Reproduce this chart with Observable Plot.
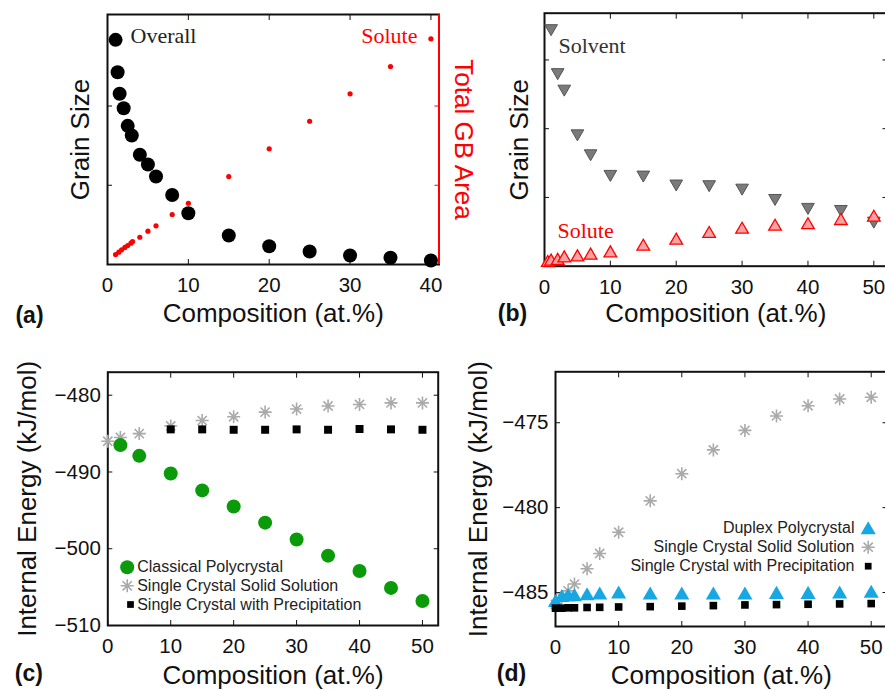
<!DOCTYPE html>
<html><head><meta charset="utf-8">
<script src="https://cdn.jsdelivr.net/npm/d3@7"></script>
<script src="https://cdn.jsdelivr.net/npm/@observablehq/plot@0.6"></script>
<style>
html,body{margin:0;padding:0;background:#fff;overflow:hidden;}
#root{position:relative;width:885px;height:690px;overflow:hidden;background:#fff;}
</style></head><body><div id="root"></div>
<script>
// ---------------- data ----------------
// (a) grain size (arb.) and total GB area (arb.) vs composition
const overallComp  = [1, 1.25, 1.5, 2, 2.5, 3, 4, 5, 6, 8, 10, 15, 20, 25, 30, 35, 40];
const overallGrain = [2.835, 2.427, 2.154, 1.972, 1.750, 1.628, 1.385, 1.262, 1.110, 0.877, 0.647, 0.366, 0.231, 0.164, 0.114, 0.085, 0.050];
const gbAreaComp   = [1, 1.4, 1.75, 2.15, 2.5, 2.9, 3.1, 4, 5, 6, 8, 10, 15, 20, 25, 30, 35, 40];
const gbArea       = [0.126, 0.155, 0.185, 0.215, 0.240, 0.269, 0.290, 0.344, 0.420, 0.488, 0.631, 0.773, 1.110, 1.460, 1.808, 2.154, 2.498, 2.848];
// (b) solvent / solute grain size
const solventComp  = [1, 2, 3, 5, 7, 10, 15, 20, 25, 30, 35, 40, 45, 50];
const solventGrain = [3.46, 2.82, 2.58, 1.93, 1.64, 1.34, 1.33, 1.20, 1.19, 1.14, 0.99, 0.86, 0.83, 0.66];
const soluteComp   = [0.5, 1, 2, 3, 5, 7, 10, 15, 20, 25, 30, 35, 40, 45, 50];
const soluteGrain  = [0.05, 0.07, 0.08, 0.116, 0.131, 0.156, 0.189, 0.286, 0.374, 0.471, 0.533, 0.577, 0.599, 0.660, 0.708];
// (c) internal energy (kJ/mol)
const classicalComp   = [2, 5, 10, 15, 20, 25, 30, 35, 40, 45, 50];
const classicalEnergy = [-486.5, -487.9, -490.2, -492.4, -494.5, -496.6, -498.8, -500.9, -502.9, -505.1, -506.8];
const solidCompC      = [0, 2, 5, 10, 15, 20, 25, 30, 35, 40, 45, 50];
const solidEnergyC    = [-486.0, -485.5, -485.0, -484.0, -483.3, -482.8, -482.2, -481.8, -481.4, -481.2, -481.0, -481.0];
const precipCompC     = [10, 15, 20, 25, 30, 35, 40, 45, 50];
const precipEnergyC   = [-484.45, -484.45, -484.5, -484.5, -484.45, -484.5, -484.4, -484.45, -484.5];
// (d) internal energy (kJ/mol)
const compD           = [0, 1, 2, 3, 5, 7, 10, 15, 20, 25, 30, 35, 40, 45, 50];
const duplexEnergy    = [-485.6, -485.3, -485.25, -485.25, -485.2, -485.15, -485.1, -485.15, -485.15, -485.15, -485.15, -485.12, -485.12, -485.1, -485.05];
const solidEnergyD    = [-485.7, -485.3, -484.9, -484.5, -483.6, -482.7, -481.45, -479.6, -478.0, -476.6, -475.45, -474.6, -474.0, -473.6, -473.5];
const precipEnergyD   = [-485.92, -485.92, -485.9, -485.9, -485.88, -485.87, -485.85, -485.83, -485.8, -485.77, -485.73, -485.71, -485.69, -485.67, -485.65];
// ticks & domains
const xTicksA = [0, 10, 20, 30, 40];
const xTicksBCD = [0, 10, 20, 30, 40, 50];
const yTicksA = [1, 2];
const yTicksB = [1, 2, 3];
const yTicksC = [-510, -500, -490, -480];
const yTicksD = [-485, -480, -475];
const xDomainA = [0, 41], yDomainA = [0, 3.155];
const xDomainB = [0, 52], yDomainB = [0, 3.68];
const xDomainC = [0, 52.5], yDomainC = [-510, -477];
const xDomainD = [0, 52.5], yDomainD = [-487, -472];
// text
const xTitle = "Composition (at.%)";
const grainTitle = "Grain Size";
const gbTitle = "Total GB Area";
const energyTitle = "Internal Energy (kJ/mol)";
const legendC = ["Classical Polycrystal", "Single Crystal Solid Solution", "Single Crystal with Precipitation"];
const legendD = ["Duplex Polycrystal", "Single Crystal Solid Solution", "Single Crystal with Precipitation"];

// ---------------- helpers ----------------
const SANS = "'Liberation Sans', Arial, Helvetica, sans-serif";
const SERIF = "'Liberation Serif', 'Times New Roman', serif";
const GREEN = "#0a9a0a", STAR = "#aaaaaa", BLUE = "#17a8e3";
const zip = (xs, ys) => xs.map((x, i) => ({x, y: ys[i]}));
const asterisk8 = {
  draw(ctx, size) {
    const r = Math.sqrt(size / Math.PI);
    for (let k = 0; k < 4; ++k) {
      const a = k * Math.PI / 4, c = Math.cos(a) * r, s = Math.sin(a) * r;
      ctx.moveTo(-c, -s); ctx.lineTo(c, s);
    }
  }
};
const blank = () => "";
function box(xTicks, yTicks, {yLabels = true, rightColor = "#111"} = {}) {
  return [
    Plot.frame({stroke: "#111", strokeWidth: 2}),
    Plot.axisX({ticks: xTicks, anchor: "bottom", tickSize: -5, tickPadding: 18, fontSize: 20.5, label: null, color: "#111"}),
    Plot.axisX({ticks: xTicks, anchor: "top", tickSize: -5, tickFormat: blank, label: null, color: "#111"}),
    Plot.axisY({ticks: yTicks, anchor: "left", tickSize: -5, tickPadding: 12, fontSize: 20.5, label: null, color: "#111", tickFormat: yLabels ? undefined : blank}),
    Plot.axisY({ticks: yTicks, anchor: "right", tickSize: -5, tickFormat: blank, label: null, color: rightColor})
  ];
}
function titles(yTitle, yDx, xDy, tag, tagDx, tagDy) {
  return [
    Plot.text([xTitle], {text: d => d, frameAnchor: "bottom", dy: xDy, textAnchor: "middle", lineAnchor: "middle", fontSize: 26, fill: "#111"}),
    Plot.text([yTitle], {text: d => d, frameAnchor: "left", dx: yDx, rotate: -90, textAnchor: "middle", lineAnchor: "middle", fontSize: 26, fill: "#111"}),
    Plot.text([tag], {text: d => d, frameAnchor: "bottom-left", dx: tagDx, dy: tagDy, textAnchor: "middle", lineAnchor: "middle", fontSize: 23, fontWeight: "bold", fill: "#111"})
  ];
}
function legendText(label, anchor, dx, dy, textAnchor) {
  return Plot.text([label], {text: d => d, frameAnchor: anchor, dx, dy, textAnchor, lineAnchor: "middle", fontSize: 16, fill: "#222"});
}
const root = document.getElementById("root");
function place({left, top, width, height, mt, mr, mb, ml, xDomain, yDomain, marks}) {
  const svg = Plot.plot({
    width, height, marginTop: mt, marginRight: mr, marginBottom: mb, marginLeft: ml,
    x: {domain: xDomain}, y: {domain: yDomain},
    style: {fontFamily: SANS, fontSize: "20px", background: "transparent", overflow: "visible", color: "#111"},
    marks
  });
  svg.style.position = "absolute";
  svg.style.left = left + "px";
  svg.style.top = top + "px";
  root.appendChild(svg);
}

// ---------------- (a) ----------------
place({
  left: 0, top: 0, width: 490, height: 330, mt: 14, mr: 51.5, mb: 66, ml: 107,
  xDomain: xDomainA, yDomain: yDomainA,
  marks: [
    ...box(xTicksA, yTicksA, {yLabels: false, rightColor: "red"}),
    Plot.ruleX([xDomainA[1]], {stroke: "red", strokeWidth: 2}),
    Plot.dot(zip(gbAreaComp, gbArea), {x: "x", y: "y", r: 2.6, fill: "red"}),
    Plot.dot(zip(overallComp, overallGrain), {x: "x", y: "y", r: 7, fill: "black"}),
    Plot.text(["Overall"], {text: d => d, frameAnchor: "top-left", dx: 23, dy: 21, textAnchor: "start", lineAnchor: "middle", fontFamily: SERIF, fontSize: 22, fill: "#222"}),
    Plot.text(["Solute"], {text: d => d, frameAnchor: "top-right", dx: -21.5, dy: 21, textAnchor: "end", lineAnchor: "middle", fontFamily: SERIF, fontSize: 22, fill: "red"}),
    Plot.text([gbTitle], {text: d => d, frameAnchor: "right", dx: 24, rotate: 90, textAnchor: "middle", lineAnchor: "middle", fontSize: 26, fill: "red"}),
    ...titles(grainTitle, -27, 49, "(a)", -78, 51)
  ]
});

// ---------------- (b) ----------------
place({
  left: 490, top: 0, width: 400, height: 330, mt: 12.7, mr: 3.5, mb: 64.3, ml: 54,
  xDomain: xDomainB, yDomain: yDomainB,
  marks: [
    ...box(xTicksBCD, yTicksB, {yLabels: false}),
    Plot.dot(zip(solventComp, solventGrain), {x: "x", y: "y", r: 4.7, symbol: "triangle", rotate: 180, fill: "#7a7a7a", stroke: "#555", strokeWidth: 1}),
    Plot.dot(zip(soluteComp, soluteGrain), {x: "x", y: "y", r: 4.7, symbol: "triangle", fill: "#f7a3a3", stroke: "red", strokeWidth: 1.3}),
    Plot.text(["Solvent"], {text: d => d, frameAnchor: "top-left", dx: 14, dy: 32.3, textAnchor: "start", lineAnchor: "middle", fontFamily: SERIF, fontSize: 22, fill: "#333"}),
    Plot.text(["Solute"], {text: d => d, frameAnchor: "bottom-left", dx: 13, dy: -35.7, textAnchor: "start", lineAnchor: "middle", fontFamily: SERIF, fontSize: 22, fill: "red"}),
    ...titles(grainTitle, -25, 47.3, "(b)", -32, 47.3)
  ]
});

// ---------------- (c) ----------------
place({
  left: 0, top: 330, width: 490, height: 360, mt: 41.7, mr: 52.3, mb: 65, ml: 107.3,
  xDomain: xDomainC, yDomain: yDomainC,
  marks: [
    ...box(xTicksBCD, yTicksC),
    Plot.dot(zip(solidCompC, solidEnergyC), {x: "x", y: "y", r: 6.5, symbol: asterisk8, fill: "none", stroke: STAR, strokeWidth: 1.6}),
    Plot.dot(zip(precipCompC, precipEnergyC), {x: "x", y: "y", r: 4.5, symbol: "square", fill: "black"}),
    Plot.dot(zip(classicalComp, classicalEnergy), {x: "x", y: "y", r: 7, fill: GREEN}),
    // legend
    Plot.dot([legendC[0]], {frameAnchor: "bottom-left", dx: 19.4, dy: -58.3, r: 7, fill: GREEN}),
    Plot.dot([legendC[1]], {frameAnchor: "bottom-left", dx: 19.4, dy: -39.7, r: 6.5, symbol: asterisk8, fill: "none", stroke: STAR, strokeWidth: 1.6}),
    Plot.dot([legendC[2]], {frameAnchor: "bottom-left", dx: 22.7, dy: -21, r: 3.8, symbol: "square", fill: "black"}),
    legendText(legendC[0], "bottom-left", 29.4, -58.3, "start"),
    legendText(legendC[1], "bottom-left", 29.4, -39.7, "start"),
    legendText(legendC[2], "bottom-left", 29.4, -21, "start"),
    ...titles(energyTitle, -80, 50, "(c)", -79, 48)
  ]
});

// ---------------- (d) ----------------
place({
  left: 490, top: 330, width: 400, height: 360, mt: 41.3, mr: 3.5, mb: 64, ml: 65,
  xDomain: xDomainD, yDomain: yDomainD,
  marks: [
    ...box(xTicksBCD, yTicksD),
    Plot.dot(zip(compD, solidEnergyD), {x: "x", y: "y", r: 6.5, symbol: asterisk8, fill: "none", stroke: STAR, strokeWidth: 1.6}),
    Plot.dot(zip(compD, duplexEnergy), {x: "x", y: "y", r: 5.6, symbol: "triangle", fill: BLUE}),
    Plot.dot(zip(compD, precipEnergyD), {x: "x", y: "y", r: 4.3, symbol: "square", fill: "black"}),
    // legend
    Plot.dot([legendD[0]], {frameAnchor: "bottom-right", dx: -18.8, dy: -96.5, r: 5.6, symbol: "triangle", fill: BLUE}),
    Plot.dot([legendD[1]], {frameAnchor: "bottom-right", dx: -18.8, dy: -79.3, r: 6.5, symbol: asterisk8, fill: "none", stroke: STAR, strokeWidth: 1.6}),
    Plot.dot([legendD[2]], {frameAnchor: "bottom-right", dx: -18.8, dy: -60.3, r: 3.8, symbol: "square", fill: "black"}),
    legendText(legendD[0], "bottom-right", -32.5, -98.3, "end"),
    legendText(legendD[1], "bottom-right", -32.5, -79.3, "end"),
    legendText(legendD[2], "bottom-right", -32.5, -60.3, "end"),
    ...titles(energyTitle, -77, 49, "(d)", -44, 47)
  ]
});
</script>
</body></html>
